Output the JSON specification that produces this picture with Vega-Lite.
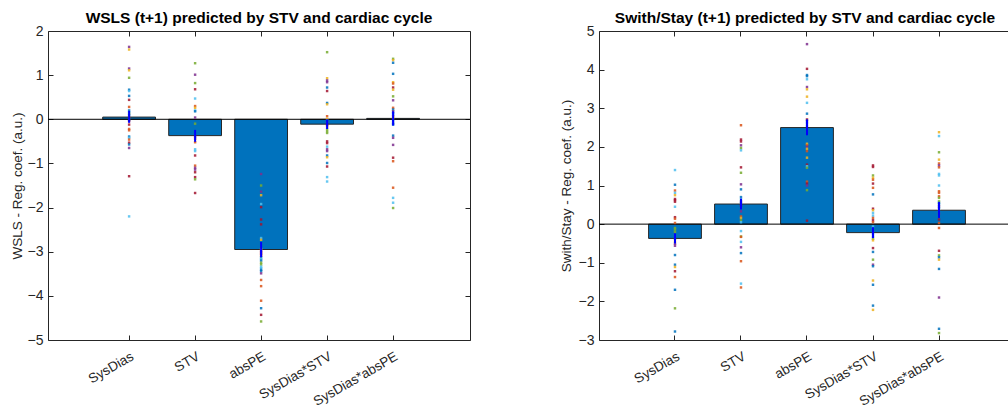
{
  "$schema": "https://vega.github.io/schema/vega-lite/v6.json",
  "padding": {"left": 10, "top": 10, "right": 0, "bottom": 0},
  "spacing": 88,
  "config": {
    "font": "Liberation Sans",
    "view": {"stroke": null},
    "axis": {
      "domainColor": "#262626", "tickColor": "#262626", "labelColor": "#262626", "titleColor": "#262626",
      "labelFontSize": 14, "titleFontSize": 13.5, "titleFontWeight": "normal", "grid": false,
      "tickSize": -5, "labelPadding": 10, "domainWidth": 1, "tickWidth": 1
    },
    "title": {"fontSize": 15.5, "fontWeight": "bold", "color": "#000000", "offset": -2, "frame": "group", "anchor": "middle"}
  },
  "datasets": {
    "barsL": [
      {"k": "SysDias", "v": 0.05, "lo": -0.08, "hi": 0.19},
      {"k": "STV", "v": -0.37, "lo": -0.51, "hi": -0.24},
      {"k": "absPE", "v": -2.95, "lo": -3.12, "hi": -2.78},
      {"k": "SysDias*STV", "v": -0.11, "lo": -0.22, "hi": 0.0},
      {"k": "SysDias*absPE", "v": 0.02, "lo": -0.14, "hi": 0.18}
    ],
    "barsR": [
      {"k": "SysDias", "v": -0.37, "lo": -0.50, "hi": -0.24},
      {"k": "STV", "v": 0.52, "lo": 0.38, "hi": 0.66},
      {"k": "absPE", "v": 2.50, "lo": 2.30, "hi": 2.71},
      {"k": "SysDias*STV", "v": -0.22, "lo": -0.36, "hi": -0.08},
      {"k": "SysDias*absPE", "v": 0.36, "lo": 0.16, "hi": 0.57}
    ],
    "dotsL": [
      {"k":"SysDias","v":1.64,"c":"4"},{"k":"SysDias","v":1.58,"c":"3"},{"k":"SysDias","v":1.15,"c":"4"},{"k":"SysDias","v":1.11,"c":"3"},{"k":"SysDias","v":0.94,"c":"5"},{"k":"SysDias","v":0.67,"c":"1"},{"k":"SysDias","v":0.64,"c":"6"},{"k":"SysDias","v":0.53,"c":"1"},{"k":"SysDias","v":0.44,"c":"7"},{"k":"SysDias","v":0.28,"c":"2"},{"k":"SysDias","v":0.20,"c":"1"},{"k":"SysDias","v":0.16,"c":"6"},{"k":"SysDias","v":0.13,"c":"5"},{"k":"SysDias","v":0.09,"c":"1"},{"k":"SysDias","v":0.04,"c":"2"},{"k":"SysDias","v":-0.01,"c":"1"},{"k":"SysDias","v":-0.04,"c":"7"},{"k":"SysDias","v":-0.12,"c":"7"},{"k":"SysDias","v":-0.22,"c":"2"},{"k":"SysDias","v":-0.25,"c":"2"},{"k":"SysDias","v":-0.39,"c":"1"},{"k":"SysDias","v":-0.42,"c":"6"},{"k":"SysDias","v":-0.46,"c":"2"},{"k":"SysDias","v":-0.53,"c":"7"},{"k":"SysDias","v":-0.57,"c":"1"},{"k":"SysDias","v":-0.65,"c":"4"},{"k":"SysDias","v":-1.29,"c":"7"},{"k":"SysDias","v":-2.20,"c":"6"},
      {"k":"STV","v":1.27,"c":"5"},{"k":"STV","v":1.01,"c":"4"},{"k":"STV","v":0.82,"c":"5"},{"k":"STV","v":0.68,"c":"7"},{"k":"STV","v":0.47,"c":"6"},{"k":"STV","v":0.30,"c":"2"},{"k":"STV","v":0.26,"c":"3"},{"k":"STV","v":0.20,"c":"6"},{"k":"STV","v":0.18,"c":"1"},{"k":"STV","v":0.04,"c":"4"},{"k":"STV","v":-0.10,"c":"5"},{"k":"STV","v":-0.29,"c":"1"},{"k":"STV","v":-0.33,"c":"1"},{"k":"STV","v":-0.39,"c":"4"},{"k":"STV","v":-0.44,"c":"2"},{"k":"STV","v":-0.52,"c":"2"},{"k":"STV","v":-0.68,"c":"6"},{"k":"STV","v":-0.72,"c":"6"},{"k":"STV","v":-0.82,"c":"7"},{"k":"STV","v":-1.05,"c":"2"},{"k":"STV","v":-1.10,"c":"4"},{"k":"STV","v":-1.14,"c":"4"},{"k":"STV","v":-1.20,"c":"7"},{"k":"STV","v":-1.31,"c":"7"},{"k":"STV","v":-1.36,"c":"5"},{"k":"STV","v":-1.67,"c":"7"},
      {"k":"absPE","v":-1.24,"c":"4"},{"k":"absPE","v":-1.50,"c":"5"},{"k":"absPE","v":-1.64,"c":"4"},{"k":"absPE","v":-1.72,"c":"3"},{"k":"absPE","v":-1.92,"c":"6"},{"k":"absPE","v":-1.99,"c":"7"},{"k":"absPE","v":-2.27,"c":"7"},{"k":"absPE","v":-2.38,"c":"7"},{"k":"absPE","v":-2.52,"c":"1"},{"k":"absPE","v":-2.69,"c":"6"},{"k":"absPE","v":-2.73,"c":"3"},{"k":"absPE","v":-2.79,"c":"1"},{"k":"absPE","v":-2.84,"c":"1"},{"k":"absPE","v":-2.88,"c":"1"},{"k":"absPE","v":-2.94,"c":"3"},{"k":"absPE","v":-2.97,"c":"4"},{"k":"absPE","v":-3.01,"c":"7"},{"k":"absPE","v":-3.05,"c":"7"},{"k":"absPE","v":-3.09,"c":"2"},{"k":"absPE","v":-3.13,"c":"1"},{"k":"absPE","v":-3.17,"c":"6"},{"k":"absPE","v":-3.20,"c":"1"},{"k":"absPE","v":-3.25,"c":"5"},{"k":"absPE","v":-3.29,"c":"5"},{"k":"absPE","v":-3.34,"c":"6"},{"k":"absPE","v":-3.37,"c":"6"},{"k":"absPE","v":-3.41,"c":"1"},{"k":"absPE","v":-3.44,"c":"1"},{"k":"absPE","v":-3.49,"c":"4"},{"k":"absPE","v":-3.64,"c":"2"},{"k":"absPE","v":-3.78,"c":"2"},{"k":"absPE","v":-4.11,"c":"2"},{"k":"absPE","v":-4.28,"c":"1"},{"k":"absPE","v":-4.43,"c":"7"},{"k":"absPE","v":-4.58,"c":"5"},
      {"k":"SysDias*STV","v":1.52,"c":"5"},{"k":"SysDias*STV","v":0.93,"c":"3"},{"k":"SysDias*STV","v":0.88,"c":"4"},{"k":"SysDias*STV","v":0.84,"c":"4"},{"k":"SysDias*STV","v":0.72,"c":"1"},{"k":"SysDias*STV","v":0.64,"c":"7"},{"k":"SysDias*STV","v":0.37,"c":"1"},{"k":"SysDias*STV","v":0.34,"c":"3"},{"k":"SysDias*STV","v":0.07,"c":"2"},{"k":"SysDias*STV","v":0.01,"c":"3"},{"k":"SysDias*STV","v":-0.03,"c":"1"},{"k":"SysDias*STV","v":-0.06,"c":"4"},{"k":"SysDias*STV","v":-0.12,"c":"7"},{"k":"SysDias*STV","v":-0.16,"c":"2"},{"k":"SysDias*STV","v":-0.22,"c":"5"},{"k":"SysDias*STV","v":-0.27,"c":"5"},{"k":"SysDias*STV","v":-0.31,"c":"5"},{"k":"SysDias*STV","v":-0.50,"c":"7"},{"k":"SysDias*STV","v":-0.54,"c":"7"},{"k":"SysDias*STV","v":-0.62,"c":"6"},{"k":"SysDias*STV","v":-0.68,"c":"4"},{"k":"SysDias*STV","v":-0.72,"c":"4"},{"k":"SysDias*STV","v":-0.82,"c":"1"},{"k":"SysDias*STV","v":-0.86,"c":"3"},{"k":"SysDias*STV","v":-0.99,"c":"1"},{"k":"SysDias*STV","v":-1.07,"c":"7"},{"k":"SysDias*STV","v":-1.31,"c":"6"},{"k":"SysDias*STV","v":-1.41,"c":"6"},
      {"k":"SysDias*absPE","v":1.37,"c":"5"},{"k":"SysDias*absPE","v":1.34,"c":"3"},{"k":"SysDias*absPE","v":1.28,"c":"1"},{"k":"SysDias*absPE","v":1.03,"c":"1"},{"k":"SysDias*absPE","v":0.84,"c":"3"},{"k":"SysDias*absPE","v":0.81,"c":"2"},{"k":"SysDias*absPE","v":0.72,"c":"7"},{"k":"SysDias*absPE","v":0.67,"c":"3"},{"k":"SysDias*absPE","v":0.52,"c":"5"},{"k":"SysDias*absPE","v":0.43,"c":"4"},{"k":"SysDias*absPE","v":0.26,"c":"2"},{"k":"SysDias*absPE","v":0.22,"c":"1"},{"k":"SysDias*absPE","v":0.18,"c":"4"},{"k":"SysDias*absPE","v":0.14,"c":"1"},{"k":"SysDias*absPE","v":0.10,"c":"6"},{"k":"SysDias*absPE","v":0.07,"c":"2"},{"k":"SysDias*absPE","v":0.03,"c":"3"},{"k":"SysDias*absPE","v":-0.03,"c":"1"},{"k":"SysDias*absPE","v":-0.09,"c":"1"},{"k":"SysDias*absPE","v":-0.12,"c":"1"},{"k":"SysDias*absPE","v":-0.37,"c":"1"},{"k":"SysDias*absPE","v":-0.42,"c":"4"},{"k":"SysDias*absPE","v":-0.58,"c":"4"},{"k":"SysDias*absPE","v":-0.87,"c":"7"},{"k":"SysDias*absPE","v":-0.95,"c":"2"},{"k":"SysDias*absPE","v":-1.55,"c":"2"},{"k":"SysDias*absPE","v":-1.78,"c":"6"},{"k":"SysDias*absPE","v":-1.89,"c":"6"},{"k":"SysDias*absPE","v":-2.01,"c":"5"}
    ],
    "dotsR": [
      {"k":"SysDias","v":1.40,"c":"6"},{"k":"SysDias","v":1.02,"c":"1"},{"k":"SysDias","v":0.87,"c":"2"},{"k":"SysDias","v":0.81,"c":"6"},{"k":"SysDias","v":0.75,"c":"3"},{"k":"SysDias","v":0.65,"c":"7"},{"k":"SysDias","v":0.62,"c":"7"},{"k":"SysDias","v":0.58,"c":"7"},{"k":"SysDias","v":0.45,"c":"6"},{"k":"SysDias","v":0.18,"c":"7"},{"k":"SysDias","v":0.14,"c":"2"},{"k":"SysDias","v":0.03,"c":"2"},{"k":"SysDias","v":-0.10,"c":"5"},{"k":"SysDias","v":-0.14,"c":"5"},{"k":"SysDias","v":-0.20,"c":"5"},{"k":"SysDias","v":-0.27,"c":"1"},{"k":"SysDias","v":-0.32,"c":"1"},{"k":"SysDias","v":-0.38,"c":"1"},{"k":"SysDias","v":-0.45,"c":"3"},{"k":"SysDias","v":-0.51,"c":"4"},{"k":"SysDias","v":-0.56,"c":"4"},{"k":"SysDias","v":-0.80,"c":"1"},{"k":"SysDias","v":-1.05,"c":"1"},{"k":"SysDias","v":-1.11,"c":"3"},{"k":"SysDias","v":-1.22,"c":"7"},{"k":"SysDias","v":-1.37,"c":"2"},{"k":"SysDias","v":-1.70,"c":"1"},{"k":"SysDias","v":-2.18,"c":"5"},{"k":"SysDias","v":-2.78,"c":"1"},
      {"k":"STV","v":2.56,"c":"2"},{"k":"STV","v":2.19,"c":"7"},{"k":"STV","v":2.14,"c":"7"},{"k":"STV","v":2.04,"c":"4"},{"k":"STV","v":1.97,"c":"5"},{"k":"STV","v":1.91,"c":"6"},{"k":"STV","v":1.47,"c":"7"},{"k":"STV","v":1.33,"c":"5"},{"k":"STV","v":1.03,"c":"4"},{"k":"STV","v":0.90,"c":"1"},{"k":"STV","v":0.70,"c":"1"},{"k":"STV","v":0.64,"c":"6"},{"k":"STV","v":0.59,"c":"4"},{"k":"STV","v":0.55,"c":"1"},{"k":"STV","v":0.48,"c":"7"},{"k":"STV","v":0.42,"c":"1"},{"k":"STV","v":0.38,"c":"1"},{"k":"STV","v":0.33,"c":"4"},{"k":"STV","v":0.20,"c":"2"},{"k":"STV","v":0.16,"c":"3"},{"k":"STV","v":0.10,"c":"5"},{"k":"STV","v":0.05,"c":"6"},{"k":"STV","v":-0.18,"c":"6"},{"k":"STV","v":-0.32,"c":"5"},{"k":"STV","v":-0.33,"c":"2"},{"k":"STV","v":-0.46,"c":"6"},{"k":"STV","v":-0.60,"c":"4"},{"k":"STV","v":-0.75,"c":"1"},{"k":"STV","v":-0.96,"c":"2"},{"k":"STV","v":-1.54,"c":"6"},{"k":"STV","v":-1.64,"c":"2"},
      {"k":"absPE","v":4.66,"c":"4"},{"k":"absPE","v":4.02,"c":"7"},{"k":"absPE","v":3.86,"c":"1"},{"k":"absPE","v":3.83,"c":"1"},{"k":"absPE","v":3.75,"c":"6"},{"k":"absPE","v":3.55,"c":"4"},{"k":"absPE","v":3.49,"c":"3"},{"k":"absPE","v":3.30,"c":"3"},{"k":"absPE","v":3.14,"c":"6"},{"k":"absPE","v":2.86,"c":"1"},{"k":"absPE","v":2.71,"c":"7"},{"k":"absPE","v":2.67,"c":"1"},{"k":"absPE","v":2.61,"c":"1"},{"k":"absPE","v":2.54,"c":"1"},{"k":"absPE","v":2.45,"c":"1"},{"k":"absPE","v":2.41,"c":"1"},{"k":"absPE","v":2.35,"c":"1"},{"k":"absPE","v":2.08,"c":"3"},{"k":"absPE","v":2.04,"c":"2"},{"k":"absPE","v":2.00,"c":"4"},{"k":"absPE","v":1.95,"c":"3"},{"k":"absPE","v":1.89,"c":"2"},{"k":"absPE","v":1.72,"c":"3"},{"k":"absPE","v":1.54,"c":"7"},{"k":"absPE","v":1.50,"c":"6"},{"k":"absPE","v":1.46,"c":"5"},{"k":"absPE","v":1.10,"c":"2"},{"k":"absPE","v":1.05,"c":"7"},{"k":"absPE","v":1.00,"c":"4"},{"k":"absPE","v":0.88,"c":"5"},{"k":"absPE","v":0.09,"c":"7"},
      {"k":"SysDias*STV","v":1.52,"c":"7"},{"k":"SysDias*STV","v":1.48,"c":"7"},{"k":"SysDias*STV","v":1.26,"c":"5"},{"k":"SysDias*STV","v":1.20,"c":"3"},{"k":"SysDias*STV","v":1.15,"c":"2"},{"k":"SysDias*STV","v":1.05,"c":"7"},{"k":"SysDias*STV","v":0.94,"c":"2"},{"k":"SysDias*STV","v":0.77,"c":"1"},{"k":"SysDias*STV","v":0.40,"c":"7"},{"k":"SysDias*STV","v":0.36,"c":"3"},{"k":"SysDias*STV","v":0.29,"c":"6"},{"k":"SysDias*STV","v":0.22,"c":"6"},{"k":"SysDias*STV","v":0.16,"c":"2"},{"k":"SysDias*STV","v":0.10,"c":"7"},{"k":"SysDias*STV","v":0.05,"c":"2"},{"k":"SysDias*STV","v":-0.06,"c":"6"},{"k":"SysDias*STV","v":-0.13,"c":"1"},{"k":"SysDias*STV","v":-0.19,"c":"1"},{"k":"SysDias*STV","v":-0.25,"c":"1"},{"k":"SysDias*STV","v":-0.32,"c":"1"},{"k":"SysDias*STV","v":-0.38,"c":"5"},{"k":"SysDias*STV","v":-0.42,"c":"3"},{"k":"SysDias*STV","v":-0.62,"c":"7"},{"k":"SysDias*STV","v":-0.72,"c":"1"},{"k":"SysDias*STV","v":-0.92,"c":"5"},{"k":"SysDias*STV","v":-1.05,"c":"4"},{"k":"SysDias*STV","v":-1.09,"c":"1"},{"k":"SysDias*STV","v":-1.46,"c":"3"},{"k":"SysDias*STV","v":-1.57,"c":"1"},{"k":"SysDias*STV","v":-2.11,"c":"1"},{"k":"SysDias*STV","v":-2.22,"c":"3"},
      {"k":"SysDias*absPE","v":2.38,"c":"3"},{"k":"SysDias*absPE","v":2.28,"c":"6"},{"k":"SysDias*absPE","v":1.86,"c":"5"},{"k":"SysDias*absPE","v":1.67,"c":"3"},{"k":"SysDias*absPE","v":1.57,"c":"2"},{"k":"SysDias*absPE","v":1.52,"c":"4"},{"k":"SysDias*absPE","v":1.47,"c":"2"},{"k":"SysDias*absPE","v":1.30,"c":"6"},{"k":"SysDias*absPE","v":1.26,"c":"6"},{"k":"SysDias*absPE","v":1.00,"c":"6"},{"k":"SysDias*absPE","v":0.85,"c":"2"},{"k":"SysDias*absPE","v":0.81,"c":"2"},{"k":"SysDias*absPE","v":0.72,"c":"2"},{"k":"SysDias*absPE","v":0.68,"c":"5"},{"k":"SysDias*absPE","v":0.59,"c":"5"},{"k":"SysDias*absPE","v":0.55,"c":"1"},{"k":"SysDias*absPE","v":0.51,"c":"1"},{"k":"SysDias*absPE","v":0.46,"c":"4"},{"k":"SysDias*absPE","v":0.42,"c":"1"},{"k":"SysDias*absPE","v":0.33,"c":"1"},{"k":"SysDias*absPE","v":0.27,"c":"4"},{"k":"SysDias*absPE","v":0.20,"c":"1"},{"k":"SysDias*absPE","v":0.12,"c":"7"},{"k":"SysDias*absPE","v":0.03,"c":"2"},{"k":"SysDias*absPE","v":-0.10,"c":"2"},{"k":"SysDias*absPE","v":-0.69,"c":"7"},{"k":"SysDias*absPE","v":-0.81,"c":"5"},{"k":"SysDias*absPE","v":-0.86,"c":"1"},{"k":"SysDias*absPE","v":-0.92,"c":"3"},{"k":"SysDias*absPE","v":-1.16,"c":"1"},{"k":"SysDias*absPE","v":-1.90,"c":"4"},{"k":"SysDias*absPE","v":-2.71,"c":"1"},{"k":"SysDias*absPE","v":-2.82,"c":"5"}
    ]
  },
  "hconcat": [
    {
      "width": 422,
      "height": 309,
      "title": "WSLS (t+1) predicted by STV and cardiac cycle",
      "resolve": {"axis": {"x": "independent", "y": "independent"}},
      "layer": [
        {
          "data": {"name": "barsL"},
          "mark": {"type": "bar", "color": "#0072BD", "stroke": "#262626", "strokeWidth": 1},
          "encoding": {
            "x": {"field": "k", "type": "nominal", "sort": ["SysDias", "STV", "absPE", "SysDias*STV", "SysDias*absPE"],
                  "scale": {"domain": ["SysDias", "STV", "absPE", "SysDias*STV", "SysDias*absPE"], "paddingInner": 0.2, "paddingOuter": 0.797, "align": 0.52},
                  "axis": {"orient": "bottom", "title": null, "labelAngle": -30, "labelPadding": 14, "labelFontSize": 13.5}},
            "y": {"field": "v", "type": "quantitative", "scale": {"domain": [-5, 2], "nice": false, "zero": false},
                  "axis": {"orient": "left", "title": "WSLS - Reg. coef. (a.u.)", "values": [-5, -4, -3, -2, -1, 0, 1, 2], "titlePadding": 3}}
          }
        },
        {
          "data": {"values": [{}]},
          "mark": {"type": "rule", "color": "#000000", "strokeWidth": 1},
          "encoding": {"y": {"datum": 0, "type": "quantitative", "axis": null}}
        },
        {
          "data": {"name": "dotsL"},
          "mark": {"type": "point", "shape": "square", "filled": true, "size": 6, "opacity": 0.85},
          "encoding": {
            "x": {"field": "k", "type": "nominal", "sort": ["SysDias", "STV", "absPE", "SysDias*STV", "SysDias*absPE"],
                  "axis": {"orient": "top", "title": null, "labels": false}},
            "y": {"field": "v", "type": "quantitative",
                  "axis": {"orient": "right", "title": null, "labels": false, "values": [-5, -4, -3, -2, -1, 0, 1, 2]}},
            "color": {"field": "c", "type": "nominal", "legend": null,
                      "scale": {"domain": ["1", "2", "3", "4", "5", "6", "7"], "range": ["#0072BD", "#D95319", "#EDB120", "#7E2F8E", "#77AC30", "#4DBEEE", "#A2142F"]}}
          }
        },
        {
          "data": {"name": "barsL"},
          "mark": {"type": "rule", "color": "#0000FF", "strokeWidth": 2},
          "encoding": {
            "x": {"field": "k", "type": "nominal", "sort": ["SysDias", "STV", "absPE", "SysDias*STV", "SysDias*absPE"], "axis": null},
            "y": {"field": "lo", "type": "quantitative", "axis": null},
            "y2": {"field": "hi"}
          }
        }
      ]
    },
    {
      "width": 412,
      "height": 309,
      "title": "Swith/Stay (t+1) predicted by STV and cardiac cycle",
      "resolve": {"axis": {"x": "independent", "y": "independent"}},
      "layer": [
        {
          "data": {"name": "barsR"},
          "mark": {"type": "bar", "color": "#0072BD", "stroke": "#262626", "strokeWidth": 1},
          "encoding": {
            "x": {"field": "k", "type": "nominal", "sort": ["SysDias", "STV", "absPE", "SysDias*STV", "SysDias*absPE"],
                  "scale": {"domain": ["SysDias", "STV", "absPE", "SysDias*STV", "SysDias*absPE"], "paddingInner": 0.2, "paddingOuter": 0.721, "align": 0.521},
                  "axis": {"orient": "bottom", "title": null, "labelAngle": -30, "labelPadding": 14, "labelFontSize": 13.5}},
            "y": {"field": "v", "type": "quantitative", "scale": {"domain": [-3, 5], "nice": false, "zero": false},
                  "axis": {"orient": "left", "title": "Swith/Stay - Reg. coef. (a.u.)", "values": [-3, -2, -1, 0, 1, 2, 3, 4, 5], "titlePadding": 5}}
          }
        },
        {
          "data": {"values": [{}]},
          "mark": {"type": "rule", "color": "#000000", "strokeWidth": 1},
          "encoding": {"y": {"datum": 0, "type": "quantitative", "axis": null}}
        },
        {
          "data": {"name": "dotsR"},
          "mark": {"type": "point", "shape": "square", "filled": true, "size": 6, "opacity": 0.85},
          "encoding": {
            "x": {"field": "k", "type": "nominal", "sort": ["SysDias", "STV", "absPE", "SysDias*STV", "SysDias*absPE"],
                  "axis": {"orient": "top", "title": null, "labels": false}},
            "y": {"field": "v", "type": "quantitative", "axis": null},
            "color": {"field": "c", "type": "nominal", "legend": null,
                      "scale": {"domain": ["1", "2", "3", "4", "5", "6", "7"], "range": ["#0072BD", "#D95319", "#EDB120", "#7E2F8E", "#77AC30", "#4DBEEE", "#A2142F"]}}
          }
        },
        {
          "data": {"name": "barsR"},
          "mark": {"type": "rule", "color": "#0000FF", "strokeWidth": 2},
          "encoding": {
            "x": {"field": "k", "type": "nominal", "sort": ["SysDias", "STV", "absPE", "SysDias*STV", "SysDias*absPE"], "axis": null},
            "y": {"field": "lo", "type": "quantitative", "axis": null},
            "y2": {"field": "hi"}
          }
        }
      ]
    }
  ]
}
